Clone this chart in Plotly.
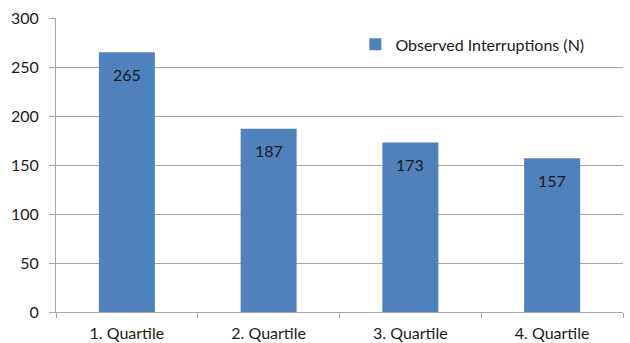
import plotly.graph_objects as go

categories = ["1. Quartile", "2. Quartile", "3. Quartile", "4. Quartile"]
values = [265, 187, 173, 157]
series_name = "Observed Interruptions (N)"
y_ticks = [0, 50, 100, 150, 200, 250, 300]

fig = go.Figure()
fig.add_trace(go.Bar(
    x=categories, y=values, name=series_name,
    marker=dict(color="#4F81BD", line=dict(width=0)),
    showlegend=True,
))
for c, v in zip(categories, values):
    fig.add_annotation(x=c, y=v, text=str(v), showarrow=False,
                       yanchor="middle", yshift=-22,
                       font=dict(color="#1a1a1a", size=16, family="Lato"))

fig.update_layout(
    width=630, height=343,
    margin=dict(l=56, r=7, t=18, b=31),
    paper_bgcolor="white", plot_bgcolor="white",
    font=dict(family="Lato", size=16, color="#1a1a1a"),
    bargap=0.605,
    legend=dict(x=0.528, y=0.91, xanchor="left", yanchor="middle",
                bgcolor="rgba(0,0,0,0)", font=dict(size=16),
                itemsizing="constant"),
    xaxis=dict(showline=True, linecolor="#A6A6A6", linewidth=1,
               ticks="outside", tickson="boundaries", ticklen=5,
               tickcolor="#A6A6A6", showgrid=False, fixedrange=True,
               ticklabelstandoff=7, automargin=False),
    yaxis=dict(range=[0, 300], tickvals=y_ticks, showline=True,
               linecolor="#A6A6A6", linewidth=1, ticks="outside",
               ticklen=6, tickcolor="#A6A6A6", showgrid=True,
               gridcolor="#A6A6A6", gridwidth=1, zeroline=False,
               ticklabelstandoff=7, automargin=False),
)

fig.write_html("out.html")
